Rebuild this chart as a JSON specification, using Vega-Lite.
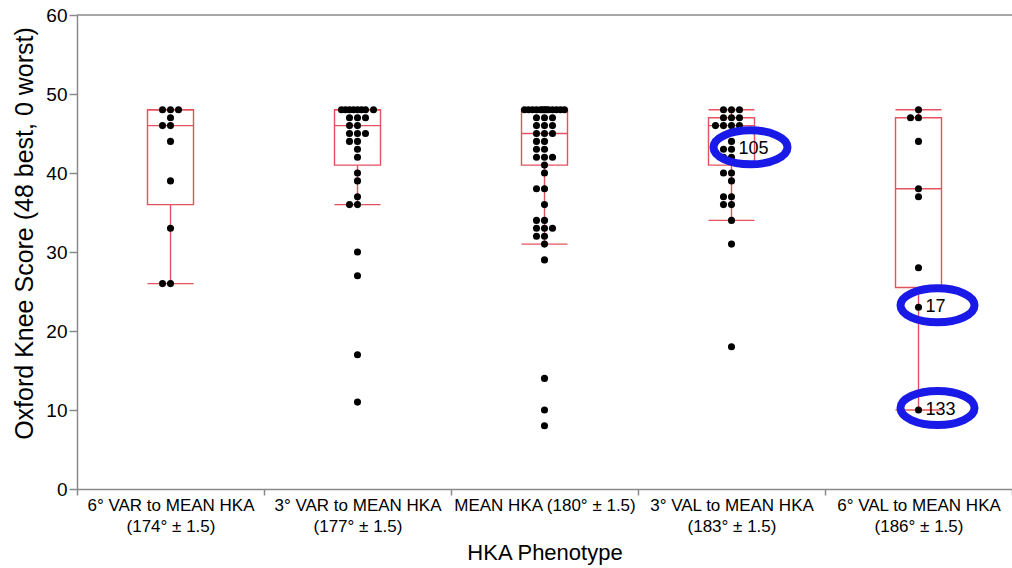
{
  "$schema": "https://vega.github.io/schema/vega-lite/v6.json",
  "width": 935,
  "height": 474,
  "autosize": {"type": "none"},
  "padding": {"left": 77, "top": 15, "right": 0, "bottom": 79},
  "background": "white",
  "config": {"view": {"stroke": null}, "font": "Liberation Sans"},
  "datasets": {
    "points": [
      {"phenotype": "6° VAR to MEAN HKA (174° ± 1.5)", "score": 48},
      {"phenotype": "6° VAR to MEAN HKA (174° ± 1.5)", "score": 48},
      {"phenotype": "6° VAR to MEAN HKA (174° ± 1.5)", "score": 48},
      {"phenotype": "6° VAR to MEAN HKA (174° ± 1.5)", "score": 47},
      {"phenotype": "6° VAR to MEAN HKA (174° ± 1.5)", "score": 46},
      {"phenotype": "6° VAR to MEAN HKA (174° ± 1.5)", "score": 46},
      {"phenotype": "6° VAR to MEAN HKA (174° ± 1.5)", "score": 44},
      {"phenotype": "6° VAR to MEAN HKA (174° ± 1.5)", "score": 39},
      {"phenotype": "6° VAR to MEAN HKA (174° ± 1.5)", "score": 33},
      {"phenotype": "6° VAR to MEAN HKA (174° ± 1.5)", "score": 26},
      {"phenotype": "6° VAR to MEAN HKA (174° ± 1.5)", "score": 26},
      {"phenotype": "3° VAR to MEAN HKA (177° ± 1.5)", "score": 48},
      {"phenotype": "3° VAR to MEAN HKA (177° ± 1.5)", "score": 48},
      {"phenotype": "3° VAR to MEAN HKA (177° ± 1.5)", "score": 48},
      {"phenotype": "3° VAR to MEAN HKA (177° ± 1.5)", "score": 48},
      {"phenotype": "3° VAR to MEAN HKA (177° ± 1.5)", "score": 48},
      {"phenotype": "3° VAR to MEAN HKA (177° ± 1.5)", "score": 48},
      {"phenotype": "3° VAR to MEAN HKA (177° ± 1.5)", "score": 48},
      {"phenotype": "3° VAR to MEAN HKA (177° ± 1.5)", "score": 48},
      {"phenotype": "3° VAR to MEAN HKA (177° ± 1.5)", "score": 47},
      {"phenotype": "3° VAR to MEAN HKA (177° ± 1.5)", "score": 47},
      {"phenotype": "3° VAR to MEAN HKA (177° ± 1.5)", "score": 47},
      {"phenotype": "3° VAR to MEAN HKA (177° ± 1.5)", "score": 46},
      {"phenotype": "3° VAR to MEAN HKA (177° ± 1.5)", "score": 46},
      {"phenotype": "3° VAR to MEAN HKA (177° ± 1.5)", "score": 45},
      {"phenotype": "3° VAR to MEAN HKA (177° ± 1.5)", "score": 45},
      {"phenotype": "3° VAR to MEAN HKA (177° ± 1.5)", "score": 45},
      {"phenotype": "3° VAR to MEAN HKA (177° ± 1.5)", "score": 44},
      {"phenotype": "3° VAR to MEAN HKA (177° ± 1.5)", "score": 44},
      {"phenotype": "3° VAR to MEAN HKA (177° ± 1.5)", "score": 43},
      {"phenotype": "3° VAR to MEAN HKA (177° ± 1.5)", "score": 42},
      {"phenotype": "3° VAR to MEAN HKA (177° ± 1.5)", "score": 40},
      {"phenotype": "3° VAR to MEAN HKA (177° ± 1.5)", "score": 39},
      {"phenotype": "3° VAR to MEAN HKA (177° ± 1.5)", "score": 37},
      {"phenotype": "3° VAR to MEAN HKA (177° ± 1.5)", "score": 36},
      {"phenotype": "3° VAR to MEAN HKA (177° ± 1.5)", "score": 36},
      {"phenotype": "3° VAR to MEAN HKA (177° ± 1.5)", "score": 30},
      {"phenotype": "3° VAR to MEAN HKA (177° ± 1.5)", "score": 27},
      {"phenotype": "3° VAR to MEAN HKA (177° ± 1.5)", "score": 17},
      {"phenotype": "3° VAR to MEAN HKA (177° ± 1.5)", "score": 11},
      {"phenotype": "MEAN HKA (180° ± 1.5)", "score": 48},
      {"phenotype": "MEAN HKA (180° ± 1.5)", "score": 48},
      {"phenotype": "MEAN HKA (180° ± 1.5)", "score": 48},
      {"phenotype": "MEAN HKA (180° ± 1.5)", "score": 48},
      {"phenotype": "MEAN HKA (180° ± 1.5)", "score": 48},
      {"phenotype": "MEAN HKA (180° ± 1.5)", "score": 48},
      {"phenotype": "MEAN HKA (180° ± 1.5)", "score": 48},
      {"phenotype": "MEAN HKA (180° ± 1.5)", "score": 48},
      {"phenotype": "MEAN HKA (180° ± 1.5)", "score": 48},
      {"phenotype": "MEAN HKA (180° ± 1.5)", "score": 48},
      {"phenotype": "MEAN HKA (180° ± 1.5)", "score": 48},
      {"phenotype": "MEAN HKA (180° ± 1.5)", "score": 48},
      {"phenotype": "MEAN HKA (180° ± 1.5)", "score": 48},
      {"phenotype": "MEAN HKA (180° ± 1.5)", "score": 47},
      {"phenotype": "MEAN HKA (180° ± 1.5)", "score": 47},
      {"phenotype": "MEAN HKA (180° ± 1.5)", "score": 47},
      {"phenotype": "MEAN HKA (180° ± 1.5)", "score": 46},
      {"phenotype": "MEAN HKA (180° ± 1.5)", "score": 46},
      {"phenotype": "MEAN HKA (180° ± 1.5)", "score": 46},
      {"phenotype": "MEAN HKA (180° ± 1.5)", "score": 45},
      {"phenotype": "MEAN HKA (180° ± 1.5)", "score": 45},
      {"phenotype": "MEAN HKA (180° ± 1.5)", "score": 45},
      {"phenotype": "MEAN HKA (180° ± 1.5)", "score": 44},
      {"phenotype": "MEAN HKA (180° ± 1.5)", "score": 44},
      {"phenotype": "MEAN HKA (180° ± 1.5)", "score": 43},
      {"phenotype": "MEAN HKA (180° ± 1.5)", "score": 43},
      {"phenotype": "MEAN HKA (180° ± 1.5)", "score": 42},
      {"phenotype": "MEAN HKA (180° ± 1.5)", "score": 42},
      {"phenotype": "MEAN HKA (180° ± 1.5)", "score": 42},
      {"phenotype": "MEAN HKA (180° ± 1.5)", "score": 41},
      {"phenotype": "MEAN HKA (180° ± 1.5)", "score": 40},
      {"phenotype": "MEAN HKA (180° ± 1.5)", "score": 38},
      {"phenotype": "MEAN HKA (180° ± 1.5)", "score": 38},
      {"phenotype": "MEAN HKA (180° ± 1.5)", "score": 36},
      {"phenotype": "MEAN HKA (180° ± 1.5)", "score": 34},
      {"phenotype": "MEAN HKA (180° ± 1.5)", "score": 34},
      {"phenotype": "MEAN HKA (180° ± 1.5)", "score": 33},
      {"phenotype": "MEAN HKA (180° ± 1.5)", "score": 33},
      {"phenotype": "MEAN HKA (180° ± 1.5)", "score": 33},
      {"phenotype": "MEAN HKA (180° ± 1.5)", "score": 32},
      {"phenotype": "MEAN HKA (180° ± 1.5)", "score": 32},
      {"phenotype": "MEAN HKA (180° ± 1.5)", "score": 31},
      {"phenotype": "MEAN HKA (180° ± 1.5)", "score": 29},
      {"phenotype": "MEAN HKA (180° ± 1.5)", "score": 14},
      {"phenotype": "MEAN HKA (180° ± 1.5)", "score": 10},
      {"phenotype": "MEAN HKA (180° ± 1.5)", "score": 8},
      {"phenotype": "3° VAL to MEAN HKA (183° ± 1.5)", "score": 48},
      {"phenotype": "3° VAL to MEAN HKA (183° ± 1.5)", "score": 48},
      {"phenotype": "3° VAL to MEAN HKA (183° ± 1.5)", "score": 48},
      {"phenotype": "3° VAL to MEAN HKA (183° ± 1.5)", "score": 47},
      {"phenotype": "3° VAL to MEAN HKA (183° ± 1.5)", "score": 47},
      {"phenotype": "3° VAL to MEAN HKA (183° ± 1.5)", "score": 47},
      {"phenotype": "3° VAL to MEAN HKA (183° ± 1.5)", "score": 46},
      {"phenotype": "3° VAL to MEAN HKA (183° ± 1.5)", "score": 46},
      {"phenotype": "3° VAL to MEAN HKA (183° ± 1.5)", "score": 46},
      {"phenotype": "3° VAL to MEAN HKA (183° ± 1.5)", "score": 46},
      {"phenotype": "3° VAL to MEAN HKA (183° ± 1.5)", "score": 44},
      {"phenotype": "3° VAL to MEAN HKA (183° ± 1.5)", "score": 43},
      {"phenotype": "3° VAL to MEAN HKA (183° ± 1.5)", "score": 43},
      {"phenotype": "3° VAL to MEAN HKA (183° ± 1.5)", "score": 42},
      {"phenotype": "3° VAL to MEAN HKA (183° ± 1.5)", "score": 42},
      {"phenotype": "3° VAL to MEAN HKA (183° ± 1.5)", "score": 40},
      {"phenotype": "3° VAL to MEAN HKA (183° ± 1.5)", "score": 40},
      {"phenotype": "3° VAL to MEAN HKA (183° ± 1.5)", "score": 39},
      {"phenotype": "3° VAL to MEAN HKA (183° ± 1.5)", "score": 37},
      {"phenotype": "3° VAL to MEAN HKA (183° ± 1.5)", "score": 37},
      {"phenotype": "3° VAL to MEAN HKA (183° ± 1.5)", "score": 36},
      {"phenotype": "3° VAL to MEAN HKA (183° ± 1.5)", "score": 36},
      {"phenotype": "3° VAL to MEAN HKA (183° ± 1.5)", "score": 34},
      {"phenotype": "3° VAL to MEAN HKA (183° ± 1.5)", "score": 31},
      {"phenotype": "3° VAL to MEAN HKA (183° ± 1.5)", "score": 18},
      {"phenotype": "6° VAL to MEAN HKA (186° ± 1.5)", "score": 48},
      {"phenotype": "6° VAL to MEAN HKA (186° ± 1.5)", "score": 47},
      {"phenotype": "6° VAL to MEAN HKA (186° ± 1.5)", "score": 47},
      {"phenotype": "6° VAL to MEAN HKA (186° ± 1.5)", "score": 44},
      {"phenotype": "6° VAL to MEAN HKA (186° ± 1.5)", "score": 38},
      {"phenotype": "6° VAL to MEAN HKA (186° ± 1.5)", "score": 37},
      {"phenotype": "6° VAL to MEAN HKA (186° ± 1.5)", "score": 28},
      {"phenotype": "6° VAL to MEAN HKA (186° ± 1.5)", "score": 23},
      {"phenotype": "6° VAL to MEAN HKA (186° ± 1.5)", "score": 10}
    ],
    "boxes": [
      {"phenotype": "6° VAR to MEAN HKA (174° ± 1.5)", "lo": 26, "q1": 36, "med": 46, "q3": 48, "hi": 48},
      {"phenotype": "3° VAR to MEAN HKA (177° ± 1.5)", "lo": 36, "q1": 41, "med": 46, "q3": 48, "hi": 48},
      {"phenotype": "MEAN HKA (180° ± 1.5)", "lo": 31, "q1": 41, "med": 45, "q3": 48, "hi": 48},
      {"phenotype": "3° VAL to MEAN HKA (183° ± 1.5)", "lo": 34, "q1": 41, "med": 46, "q3": 47, "hi": 48},
      {"phenotype": "6° VAL to MEAN HKA (186° ± 1.5)", "lo": 10, "q1": 25.5, "med": 38, "q3": 47, "hi": 48}
    ],
    "notes": [
      {"phenotype": "3° VAL to MEAN HKA (183° ± 1.5)", "score": 43, "label": "105"},
      {"phenotype": "6° VAL to MEAN HKA (186° ± 1.5)", "score": 23, "label": "17"},
      {"phenotype": "6° VAL to MEAN HKA (186° ± 1.5)", "score": 10, "label": "133"}
    ]
  },
  "layer": [
    {
      "data": {"name": "boxes"},
      "mark": {"type": "bar", "width": 46, "fillOpacity": 0, "fill": "white", "stroke": "#e5525f", "strokeWidth": 1.4},
      "encoding": {
        "x": {"field": "phenotype", "type": "nominal", "title": "HKA Phenotype",
          "scale": {"domain": ["6° VAR to MEAN HKA (174° ± 1.5)", "3° VAR to MEAN HKA (177° ± 1.5)", "MEAN HKA (180° ± 1.5)", "3° VAL to MEAN HKA (183° ± 1.5)", "6° VAL to MEAN HKA (186° ± 1.5)"], "paddingInner": 0, "paddingOuter": 0},
          "axis": {"labelAngle": 0, "labelLimit": 0, "labelExpr": "indexof(datum.label, 'MEAN HKA (') == 0 ? datum.label : split(replace(datum.label, ' (', '|('), '|')", "tickBand": "extent", "tickSize": 6, "domainColor": "#8a8a8a", "tickColor": "#8a8a8a", "domainWidth": 1.5, "tickWidth": 1.5, "labelColor": "black", "labelFontSize": 17, "labelLineHeight": 21, "labelPadding": 2, "labelBaseline": "top", "titleFontSize": 22, "titleFontWeight": "normal", "titleColor": "black", "titleY": 63, "titleBaseline": "middle"}},
        "y": {"field": "q1", "type": "quantitative", "title": "Oxford Knee Score (48 best, 0 worst)", "scale": {"domain": [0, 60], "nice": false},
          "axis": {"values": [0, 5, 10, 15, 20, 25, 30, 35, 40, 45, 50, 55, 60], "labelExpr": "datum.value % 10 === 0 ? datum.label : ''", "tickSize": {"condition": {"test": "datum.value % 10 === 0", "value": 8}, "value": 4}, "grid": false, "domainColor": "#8a8a8a", "tickColor": "#8a8a8a", "domainWidth": 1.5, "tickWidth": 1.5, "labelColor": "black", "labelFontSize": 19, "labelPadding": 2, "titleFontSize": 25, "titleFontWeight": "normal", "titleColor": "black", "titleX": -53, "titleY": 218, "titleAngle": -90, "titleAlign": "center", "titleBaseline": "middle"}},
        "y2": {"field": "q3"}
      }
    },
    {
      "data": {"name": "notes"},
      "transform": [{"aggregate": [{"op": "max", "field": "score", "as": "m"}]}],
      "mark": {"type": "rule", "color": "#8a8a8a", "strokeWidth": 1.5},
      "encoding": {"y": {"datum": 60, "type": "quantitative", "title": "Oxford Knee Score (48 best, 0 worst)"}}
    },
    {
      "data": {"name": "boxes"},
      "mark": {"type": "rule", "color": "#e5525f", "strokeWidth": 1.4},
      "encoding": {
        "x": {"field": "phenotype", "type": "nominal", "title": "HKA Phenotype"},
        "y": {"field": "lo", "type": "quantitative", "title": "Oxford Knee Score (48 best, 0 worst)"},
        "y2": {"field": "q1"}
      }
    },
    {
      "data": {"name": "boxes"},
      "mark": {"type": "rule", "color": "#e5525f", "strokeWidth": 1.4},
      "encoding": {
        "x": {"field": "phenotype", "type": "nominal", "title": "HKA Phenotype"},
        "y": {"field": "q3", "type": "quantitative", "title": "Oxford Knee Score (48 best, 0 worst)"},
        "y2": {"field": "hi"}
      }
    },
    {
      "data": {"name": "boxes"},
      "transform": [{"fold": ["lo", "med", "hi"], "as": ["stat", "value"]}],
      "mark": {"type": "tick", "color": "#e5525f", "size": 46, "thickness": 1.4, "opacity": 1},
      "encoding": {
        "x": {"field": "phenotype", "type": "nominal", "title": "HKA Phenotype"},
        "y": {"field": "value", "type": "quantitative", "title": "Oxford Knee Score (48 best, 0 worst)"}
      }
    },
    {
      "data": {"name": "points"},
      "transform": [{"window": [{"op": "row_number", "as": "idx"}], "groupby": ["phenotype", "score"]}],
      "mark": {"type": "point", "filled": true, "color": "black", "size": 50, "opacity": 1},
      "encoding": {
        "x": {"field": "phenotype", "type": "nominal", "title": "HKA Phenotype"},
        "xOffset": {"field": "idx", "type": "quantitative", "scale": {"domain": [1, 2, 3, 4, 5, 6, 7, 8, 9, 10, 11, 12, 13, 14, 15, 16], "range": [93.5, 85.5, 101.5, 77.5, 109.5, 89.5, 97.5, 81.5, 105.5, 73.5, 113.5, 91.5, 95.5, 87.5, 99.5, 83.5], "zero": false, "nice": false}},
        "y": {"field": "score", "type": "quantitative", "title": "Oxford Knee Score (48 best, 0 worst)"}
      }
    },
    {
      "data": {"name": "notes"},
      "mark": {"type": "point", "shape": "M -1 0 A 1 0.46 0 1 0 1 0 A 1 0.46 0 1 0 -1 0 Z", "size": 5476, "filled": false, "color": "#1a1ae8", "strokeWidth": 8, "opacity": 1, "xOffset": 19, "yOffset": -2},
      "encoding": {
        "x": {"field": "phenotype", "type": "nominal", "title": "HKA Phenotype"},
        "y": {"field": "score", "type": "quantitative", "title": "Oxford Knee Score (48 best, 0 worst)"}
      }
    },
    {
      "data": {"name": "notes"},
      "mark": {"type": "text", "align": "left", "baseline": "middle", "dx": 7, "fontSize": 18, "color": "black"},
      "encoding": {
        "x": {"field": "phenotype", "type": "nominal", "title": "HKA Phenotype"},
        "y": {"field": "score", "type": "quantitative", "title": "Oxford Knee Score (48 best, 0 worst)"},
        "text": {"field": "label", "type": "nominal"}
      }
    }
  ]
}
